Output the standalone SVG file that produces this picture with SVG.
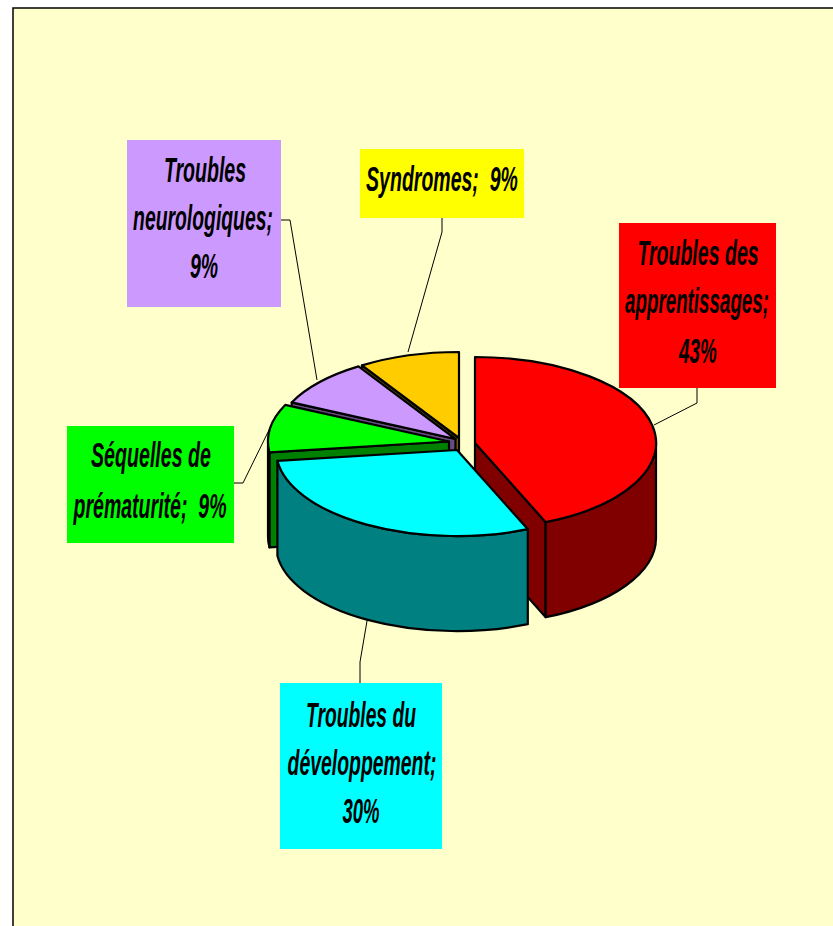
<svg xmlns="http://www.w3.org/2000/svg" width="833" height="926" viewBox="0 0 833 926">
<style>
.pie{stroke:#000;stroke-width:2.2;stroke-linejoin:round}
.lead{fill:none;stroke:#000;stroke-width:1}
.lbl{font-family:"Liberation Sans Narrow","Arial Narrow","Liberation Sans",Arial,sans-serif;font-weight:bold;font-style:italic;font-size:35px;fill:#000;text-anchor:middle;white-space:pre}
</style>
<rect x="0" y="0" width="833" height="926" fill="#fff"/>
<rect x="13" y="8" width="830" height="930" fill="#FFFFCC" stroke="#000" stroke-width="1.5"/>

<g id="slice-syndromes">
<path class="pie" fill="#806600" d="M459,438 L362,365.4 L362,460.4 L459,533 Z"/>
<path class="pie" fill="#FFCC00" d="M459,438 L362,365.4 A181,86 0 0 1 459,352 Z"/>
</g>
<g id="slice-neuro">
<path class="pie" fill="#664C80" d="M455.5,439 L291.7,402.4 L291.7,497.4 L455.5,534 Z"/>
<path class="pie" fill="#CC99FF" d="M455.5,439 L291.7,402.4 A181,86 0 0 1 358.5,366.4 Z"/>
</g>
<g id="slice-premat">
<path class="pie" fill="#008000" d="M449,441.5 L269.4,452.3 L269.4,547.3 L449,536.5 Z"/>
<path class="pie" fill="#008000" d="M269.4,452.3 A181,86 0 0 1 268,441.5 L268,536.5 A181,86 0 0 0 269.4,547.3 Z"/>
<path class="pie" fill="#00FF00" d="M449,441.5 L269.4,452.3 A181,86 0 0 1 285.2,404.9 Z"/>
</g>
<g id="slice-apprent">
<path class="pie" fill="#800000" d="M475,443 L545.7,522.2 L545.7,617.2 L475,538 Z"/>
<path class="pie" fill="#800000" d="M656,443 A181,86 0 0 1 545.7,522.2 L545.7,617.2 A181,86 0 0 0 656,538 Z"/>
<path class="pie" fill="#FF0000" d="M475,443 L475,357 A181,86 0 0 1 545.7,522.2 Z"/>
</g>
<g id="slice-dev">
<path class="pie" fill="#008080" d="M527.8,529.2 A181,86 0 0 1 277.4,460.8 L277.4,555.8 A181,86 0 0 0 527.8,624.2 Z"/>
<path class="pie" fill="#00FFFF" d="M457,450 L527.8,529.2 A181,86 0 0 1 277.4,460.8 Z"/>
</g>

<g id="connectors">
<polyline class="lead" points="281,220 290,220 317,380"/>
<polyline class="lead" points="442,218 442,232 408,352"/>
<polyline class="lead" points="697,388 697,403 654,425"/>
<polyline class="lead" points="234,483 243,483 270,428"/>
<polyline class="lead" points="360,683 360,662 367,621"/>
</g>

<g id="label-neuro">
<rect x="127" y="140" width="154" height="167" fill="#CC99FF"/>
<text class="lbl" transform="translate(205,182) scale(0.6,1)" textLength="137" lengthAdjust="spacingAndGlyphs">Troubles</text>
<text class="lbl" transform="translate(203,230) scale(0.6,1)" textLength="233" lengthAdjust="spacingAndGlyphs">neurologiques;</text>
<text class="lbl" transform="translate(204,278) scale(0.6,1)" textLength="47" lengthAdjust="spacingAndGlyphs">9%</text>
</g>
<g id="label-syndromes">
<rect x="360" y="149" width="164" height="69" fill="#FFFF00"/>
<text class="lbl" xml:space="preserve" transform="translate(442,191) scale(0.6,1)" textLength="253" lengthAdjust="spacingAndGlyphs">Syndromes;  9%</text>
</g>
<g id="label-apprent">
<rect x="619" y="223" width="157" height="165" fill="#FF0000"/>
<text class="lbl" transform="translate(698,265) scale(0.6,1)" textLength="202" lengthAdjust="spacingAndGlyphs">Troubles des</text>
<text class="lbl" transform="translate(697,313) scale(0.6,1)" textLength="240" lengthAdjust="spacingAndGlyphs">apprentissages;</text>
<text class="lbl" transform="translate(698,363) scale(0.6,1)" textLength="63" lengthAdjust="spacingAndGlyphs">43%</text>
</g>
<g id="label-premat">
<rect x="67" y="426" width="167" height="117" fill="#00FF00"/>
<text class="lbl" transform="translate(151,467) scale(0.6,1)" textLength="200" lengthAdjust="spacingAndGlyphs">Séquelles de</text>
<text class="lbl" xml:space="preserve" transform="translate(150,518) scale(0.6,1)" textLength="255" lengthAdjust="spacingAndGlyphs">prématurité;  9%</text>
</g>
<g id="label-dev">
<rect x="280" y="683" width="162" height="166" fill="#00FFFF"/>
<text class="lbl" transform="translate(361,727) scale(0.6,1)" textLength="183" lengthAdjust="spacingAndGlyphs">Troubles du</text>
<text class="lbl" transform="translate(362,775) scale(0.6,1)" textLength="248" lengthAdjust="spacingAndGlyphs">développement;</text>
<text class="lbl" transform="translate(361,823) scale(0.6,1)" textLength="62" lengthAdjust="spacingAndGlyphs">30%</text>
</g>
</svg>
